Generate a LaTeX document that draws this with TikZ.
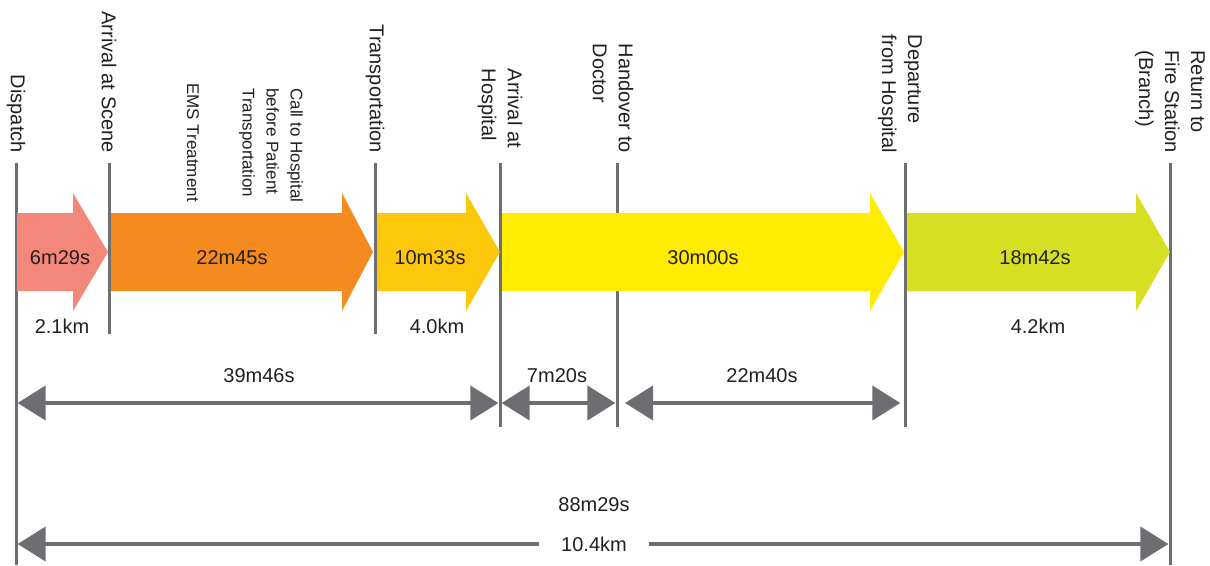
\documentclass[tikz,border=0pt]{standalone}
\usepackage{fontspec}
\setmainfont{Liberation Sans}
\usetikzlibrary{arrows.meta}
\definecolor{linegray}{HTML}{6D6E71}
\definecolor{inkgray}{HTML}{231F20}
\definecolor{pinkarr}{HTML}{F3877A}
\definecolor{orangearr}{HTML}{F58A1F}
\definecolor{goldarr}{HTML}{FDC70C}
\definecolor{yellowarr}{HTML}{FFEC00}
\definecolor{limearr}{HTML}{D7DF23}
\tikzset{
	timeline/.style={draw=linegray,line width=2.25pt},
	stamp/.style={rotate=-90,anchor=east,inner sep=0pt,align=left,text=inkgray,font=\fontsize{15}{19.5}\selectfont},
	smallstamp/.style={stamp,font=\fontsize{12.75}{18}\selectfont},
	val/.style={inner sep=0pt,text=inkgray,font=\fontsize{15}{18}\selectfont},
	dimline/.style={draw=linegray,line width=3pt,shorten <=1.2pt,shorten >=1.2pt},
	tri/.tip={Triangle[length=21pt,width=25.5pt]}
}
\begin{document}
\begin{tikzpicture}[x=0.75pt,y=-0.75pt]
	\useasboundingbox (0,0) rectangle (1210,565);
	\foreach \n/\x/\b in {disp/16/565,scene/109/334,trans/375/334,hosp/500/427,doc/617/427,dep/905/427,ret/1170/565}{
		\coordinate (\n) at (\x,163);
		\coordinate (\n bot) at (\x,\b);
		\draw[timeline] (\n) -- (\n bot);
	}
	\foreach \a/\h/\b/\c in {17/73/108/pinkarr,111/342/373/orangearr,377/466/500/goldarr,502/870/904/yellowarr,907/1136/1170/limearr}
		\fill[\c] (\a,213) -- (\h,213) -- (\h,193) -- (\b,252) -- (\h,311) -- (\h,291) -- (\a,291) -- cycle;
	\node (ldisp) at (16,153)[stamp] {Dispatch};
	\node (lscene) at (109,153)[stamp] {Arrival at Scene};
	\node (lems) at (193,202)[smallstamp] {EMS Treatment};
	\node (lcall) at (271,203)[smallstamp] {Call to Hospital\\before Patient\\Transportation};
	\node (ltrans) at (375,153)[stamp] {Transportation};
	\node (lhosp) at (500,148)[stamp] {Arrival at\\Hospital};
	\node (ldoc) at (613,153)[stamp] {Handover to\\Doctor};
	\node (ldep) at (900,153)[stamp] {Departure\\from Hospital};
	\node (lret) at (1170,153)[stamp] {Return to\\Fire Station\\(Branch)};
	\node (t1) at (60,258)[val] {6m29s};
	\node (t2) at (232,258)[val] {22m45s};
	\node (t3) at (430,258)[val] {10m33s};
	\node (t4) at (703,258)[val] {30m00s};
	\node (t5) at (1035,258)[val] {18m42s};
	\node (d1) at (62,326)[val] {2.1km};
	\node (d3) at (437,326)[val] {4.0km};
	\node (d5) at (1038,326)[val] {4.2km};
	\node (s1) at (259,376)[val] {39m46s};
	\node (s2) at (557,376)[val] {7m20s};
	\node (s3) at (762,376)[val] {22m40s};
	\coordinate (dimy) at (0,403);
	\draw[dimline,tri-tri] (disp |- dimy) -- (hosp |- dimy);
	\draw[dimline,tri-tri] (hosp |- dimy) -- (doc |- dimy);
	\draw[dimline,tri-tri,shorten <=6pt,shorten >=3.5pt] (doc |- dimy) -- (dep |- dimy);
	\node (total) at (594,505)[val] {88m29s};
	\node (dist) at (594,544)[val,inner xsep=15pt] {10.4km};
	\draw[dimline,tri-] (disp |- dist) -- (dist.west);
	\draw[dimline,-tri] (dist.east) -- (ret |- dist);
\end{tikzpicture}
\end{document}
